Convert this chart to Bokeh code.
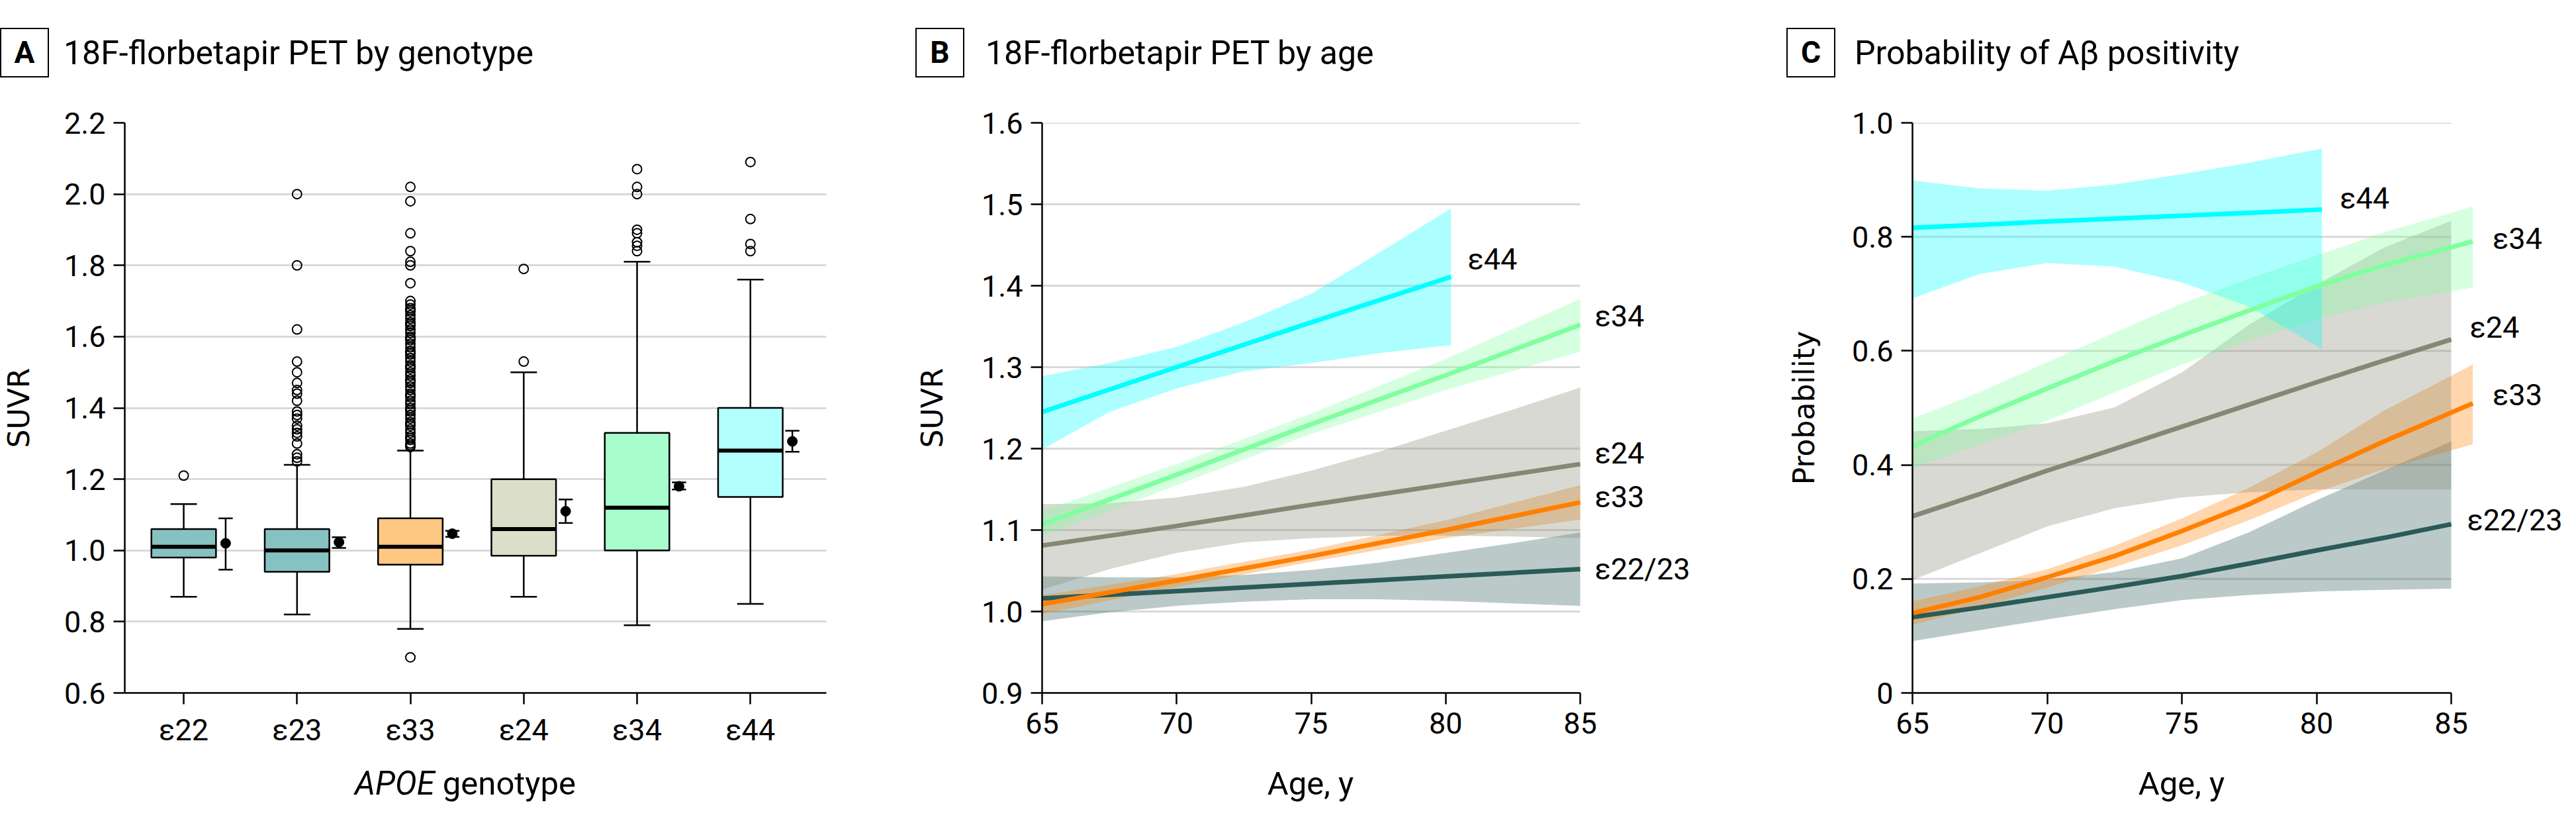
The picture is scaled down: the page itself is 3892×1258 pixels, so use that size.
import math
from bokeh.plotting import figure
from bokeh.layouts import row, column
from bokeh.models import Range1d, FixedTicker, Label, Div
from bokeh.embed import file_html
from bokeh.resources import INLINE

# ---------------- Panel A data ----------------
genotypes = ["ε22", "ε23", "ε33", "ε24", "ε34", "ε44"]
box_colors = ["#86c2c1", "#86c2c1", "#ffc882", "#dbdec8", "#a7fdcb", "#b3feff"]
q1 = [0.98, 0.94, 0.96, 0.985, 1.00, 1.15]
median = [1.01, 1.00, 1.01, 1.06, 1.12, 1.28]
q3 = [1.06, 1.06, 1.09, 1.20, 1.33, 1.40]
whisk_lo = [0.87, 0.82, 0.78, 0.87, 0.79, 0.85]
whisk_hi = [1.13, 1.24, 1.28, 1.50, 1.81, 1.76]
mean_suvr = [1.02, 1.023, 1.047, 1.11, 1.18, 1.306]
ci_lo = [0.946, 1.007, 1.038, 1.077, 1.171, 1.277]
ci_hi = [1.09, 1.037, 1.055, 1.143, 1.191, 1.336]
out_e22 = [1.21]
out_e23 = [2.00, 1.80, 1.62, 1.53, 1.50, 1.47, 1.45, 1.44, 1.42, 1.39, 1.38, 1.37,
           1.35, 1.34, 1.33, 1.32, 1.30, 1.27, 1.26, 1.25]
out_e33 = [2.02, 1.98, 1.89, 1.84, 1.81, 1.80, 1.75, 1.70, 1.69, 1.68, 1.675, 1.67,
           1.66, 1.65, 1.64, 1.635, 1.63, 1.62, 1.61, 1.60, 1.595, 1.59, 1.58, 1.57,
           1.56, 1.555, 1.55, 1.54, 1.53, 1.52, 1.515, 1.51, 1.50, 1.49, 1.48, 1.475,
           1.47, 1.46, 1.45, 1.44, 1.435, 1.43, 1.42, 1.41, 1.40, 1.395, 1.39, 1.38,
           1.37, 1.36, 1.355, 1.35, 1.34, 1.33, 1.32, 1.315, 1.31, 1.30, 1.295, 1.29,
           0.70]
out_e24 = [1.79, 1.53]
out_e34 = [2.07, 2.02, 2.00, 1.90, 1.89, 1.865, 1.855, 1.84]
out_e44 = [2.09, 1.93, 1.86, 1.84]
outliers = [out_e22, out_e23, out_e33, out_e24, out_e34, out_e44]
a_yticks = [0.6, 0.8, 1.0, 1.2, 1.4, 1.6, 1.8, 2.0, 2.2]
a_ylabels = ["0.6", "0.8", "1.0", "1.2", "1.4", "1.6", "1.8", "2.0", "2.2"]

# ---------------- Panel B / C data ----------------
series = ["ε22/23", "ε33", "ε24", "ε34", "ε44"]
series_colors = ["#2b5b57", "#ff8000", "#858874", "#80ff9f", "#00ffff"]
age_ticks = [65, 70, 75, 80, 85]
age_labels = ["65", "70", "75", "80", "85"]

# B: SUVR by age
b_line_x = [[65, 70, 75, 80, 85], [65, 70, 75, 80, 85], [65, 70, 75, 80, 85],
            [65, 70, 75, 80, 85], [65, 70, 75, 80.2]]
b_line_y = [[1.016, 1.025, 1.034, 1.043, 1.052],
            [1.009, 1.038, 1.068, 1.100, 1.134],
            [1.081, 1.105, 1.131, 1.156, 1.181],
            [1.107, 1.168, 1.230, 1.290, 1.352],
            [1.245, 1.300, 1.355, 1.411]]
b_band_x = [[65, 67.5, 70, 72.5, 75, 77.5, 80, 82.5, 85],
            [65, 70, 75, 80, 85],
            [65, 67.5, 70, 72.5, 75, 77.5, 80, 82.5, 85],
            [65, 70, 75, 80, 85],
            [65, 67.5, 70, 72.5, 75, 77.5, 80.2]]
b_band_lo = [[0.988, 0.999, 1.007, 1.012, 1.015, 1.015, 1.013, 1.010, 1.007],
             [0.997, 1.030, 1.061, 1.090, 1.113],
             [1.027, 1.052, 1.072, 1.085, 1.090, 1.093, 1.093, 1.092, 1.090],
             [1.092, 1.155, 1.218, 1.272, 1.319],
             [1.199, 1.245, 1.274, 1.295, 1.305, 1.317, 1.327]]
b_band_hi = [[1.043, 1.042, 1.042, 1.045, 1.051, 1.060, 1.072, 1.084, 1.097],
             [1.020, 1.046, 1.076, 1.112, 1.155],
             [1.132, 1.133, 1.140, 1.153, 1.173, 1.196, 1.222, 1.248, 1.275],
             [1.123, 1.181, 1.243, 1.310, 1.384],
             [1.289, 1.305, 1.325, 1.355, 1.390, 1.440, 1.495]]
b_yticks = [0.9, 1.0, 1.1, 1.2, 1.3, 1.4, 1.5, 1.6]
b_ylabels = ["0.9", "1.0", "1.1", "1.2", "1.3", "1.4", "1.5", "1.6"]

# C: probability of amyloid positivity
c_x_std = [65, 67.5, 70, 72.5, 75, 77.5, 80, 82.5, 85]
c_x_ext = [65, 67.5, 70, 72.5, 75, 77.5, 80, 82.5, 85.8]
c_x_e44 = [65, 67.5, 70, 72.5, 75, 77.5, 80.2]
c_line_x = [c_x_std, c_x_ext, c_x_std, c_x_ext, c_x_e44]
c_line_y = [[0.133, 0.150, 0.168, 0.186, 0.205, 0.227, 0.250, 0.272, 0.296],
            [0.140, 0.168, 0.203, 0.240, 0.284, 0.331, 0.387, 0.441, 0.508],
            [0.310, 0.349, 0.390, 0.428, 0.467, 0.506, 0.545, 0.583, 0.620],
            [0.433, 0.485, 0.534, 0.582, 0.627, 0.671, 0.713, 0.750, 0.792],
            [0.816, 0.821, 0.827, 0.832, 0.837, 0.842, 0.848]]
c_band_lo = [[0.091, 0.110, 0.129, 0.147, 0.163, 0.172, 0.178, 0.181, 0.183],
             [0.119, 0.150, 0.185, 0.221, 0.259, 0.303, 0.352, 0.392, 0.436],
             [0.198, 0.245, 0.292, 0.324, 0.343, 0.352, 0.357, 0.357, 0.357],
             [0.394, 0.436, 0.478, 0.527, 0.576, 0.618, 0.655, 0.685, 0.711],
             [0.692, 0.735, 0.754, 0.748, 0.720, 0.678, 0.603]]
c_band_hi = [[0.192, 0.194, 0.199, 0.212, 0.236, 0.282, 0.338, 0.390, 0.441],
             [0.161, 0.187, 0.217, 0.258, 0.306, 0.360, 0.422, 0.495, 0.576],
             [0.459, 0.463, 0.473, 0.501, 0.562, 0.646, 0.716, 0.781, 0.828],
             [0.481, 0.528, 0.580, 0.632, 0.683, 0.727, 0.767, 0.808, 0.853],
             [0.899, 0.885, 0.881, 0.892, 0.910, 0.930, 0.955]]
c_yticks = [0, 0.2, 0.4, 0.6, 0.8, 1.0]
c_ylabels = ["0", "0.2", "0.4", "0.6", "0.8", "1.0"]

# ---------------- layout constants (pixels) ----------------
FONT = "Roboto"
TITLE_H, FIG_H, XLAB_H = 150, 1000, 92
FRAME_TOP, FRAME_H = 35, 861
GRID = "#d9d9d9"


def title_div(width, box_left, title_left, letter, title):
    html = (
        f'<div style="position:relative;width:{width}px;height:{TITLE_H}px;">'
        f'<div style="position:absolute;left:{box_left}px;top:42px;width:74px;height:75px;'
        f'box-sizing:border-box;border:2.5px solid #000;display:flex;align-items:center;'
        f'justify-content:center;font-family:{FONT};font-weight:bold;font-size:46px;'
        f'color:#000;">{letter}</div>'
        f'<div style="position:absolute;left:{title_left}px;top:50px;height:60px;'
        f'line-height:60px;white-space:nowrap;font-family:{FONT};font-size:50px;'
        f'color:#000;">{title}</div></div>'
    )
    return Div(text=html, width=width, height=TITLE_H, margin=0)


def xlabel_div(width, center, html_text):
    html = (
        f'<div style="position:relative;width:{width}px;height:{XLAB_H}px;">'
        f'<div style="position:absolute;left:{center - 300}px;width:600px;top:4px;'
        f'height:60px;line-height:60px;text-align:center;white-space:nowrap;'
        f'font-family:{FONT};font-size:49px;color:#000;">{html_text}</div></div>'
    )
    return Div(text=html, width=width, height=XLAB_H, margin=0)


def make_fig(width, left, right, xr, yr, yticks, ylabels, xticks, xlabels, ylabel,
             ylabel_standoff, builtin_grid=True):
    p = figure(width=width, height=FIG_H, x_range=Range1d(*xr), y_range=Range1d(*yr),
               output_backend="svg", toolbar_location=None,
               min_border_left=left, min_border_right=right,
               min_border_top=FRAME_TOP, min_border_bottom=FIG_H - FRAME_TOP - FRAME_H,
               margin=0)
    p.outline_line_color = None
    p.background_fill_color = "white"
    p.border_fill_color = "white"
    p.xgrid.visible = False
    if builtin_grid:
        p.ygrid.ticker = FixedTicker(ticks=yticks)
        p.ygrid.grid_line_color = GRID
        p.ygrid.grid_line_width = 3
    else:
        p.ygrid.visible = False
    p.yaxis.ticker = FixedTicker(ticks=yticks)
    p.yaxis.major_label_overrides = {t: l for t, l in zip(yticks, ylabels)}
    p.xaxis.ticker = FixedTicker(ticks=xticks)
    p.xaxis.major_label_overrides = {t: l for t, l in zip(xticks, xlabels)}
    for ax in (p.xaxis, p.yaxis):
        ax.axis_line_width = 2.5
        ax.axis_line_color = "black"
        ax.major_tick_line_width = 2.5
        ax.major_tick_line_color = "black"
        ax.major_tick_out = 17
        ax.major_tick_in = 0
        ax.minor_tick_line_color = None
        ax.major_label_text_font = FONT
        ax.major_label_text_font_size = "45px"
        ax.major_label_text_color = "black"
        ax.major_label_standoff = 12
    p.yaxis.axis_label = ylabel
    p.yaxis.axis_label_text_font = "DejaVu Sans"
    p.yaxis.axis_label_text_font_size = "44px"
    p.yaxis.axis_label_text_font_style = "normal"
    p.yaxis.axis_label_text_color = "black"
    p.yaxis.axis_label_standoff = ylabel_standoff
    return p


def add_label(p, x, y, text, dx=0, dy=0):
    p.add_layout(Label(x=x, y=y, x_offset=dx, y_offset=dy, text=text,
                       text_font=FONT, text_font_size="45px", text_align="left",
                       text_baseline="middle", text_color="black"))


# ---------------- Panel A ----------------
pos = list(range(1, len(genotypes) + 1))
pA = make_fig(1300, 183, 52, (0.48, 6.67), (0.6, 2.2), a_yticks, a_ylabels, pos,
              genotypes, "SUVR", 40)

box_w, cap_w, mean_dx, ecap_w = 0.57, 0.233, 0.37, 0.125
pA.segment(x0=pos, y0=q3, x1=pos, y1=whisk_hi, line_color="black", line_width=2.5)
pA.segment(x0=pos, y0=q1, x1=pos, y1=whisk_lo, line_color="black", line_width=2.5)
pA.segment(x0=[x - cap_w / 2 for x in pos], y0=whisk_hi, x1=[x + cap_w / 2 for x in pos],
           y1=whisk_hi, line_color="black", line_width=2.5)
pA.segment(x0=[x - cap_w / 2 for x in pos], y0=whisk_lo, x1=[x + cap_w / 2 for x in pos],
           y1=whisk_lo, line_color="black", line_width=2.5)
pA.vbar(x=pos, width=box_w, top=q3, bottom=q1, fill_color=box_colors,
        line_color="black", line_width=2.5)
pA.segment(x0=[x - box_w / 2 for x in pos], y0=median, x1=[x + box_w / 2 for x in pos],
           y1=median, line_color="black", line_width=6)
ox, oy = [], []
for x, vals in zip(pos, outliers):
    ox += [x] * len(vals)
    oy += vals
pA.scatter(x=ox, y=oy, marker="circle", size=14, fill_color=None,
           line_color="black", line_width=2)
mx = [x + mean_dx for x in pos]
pA.segment(x0=mx, y0=ci_lo, x1=mx, y1=ci_hi, line_color="black", line_width=2.5)
pA.segment(x0=[x - ecap_w / 2 for x in mx], y0=ci_lo, x1=[x + ecap_w / 2 for x in mx],
           y1=ci_lo, line_color="black", line_width=2.5)
pA.segment(x0=[x - ecap_w / 2 for x in mx], y0=ci_hi, x1=[x + ecap_w / 2 for x in mx],
           y1=ci_hi, line_color="black", line_width=2.5)
pA.scatter(x=mx, y=mean_suvr, marker="circle", size=15, color="black")

colA = column(title_div(1300, 0, 96, "A", "18F-florbetapir PET by genotype"), pA,
              xlabel_div(1300, 703, "<i>APOE</i> genotype"), spacing=0)


# ---------------- Panels B and C ----------------
def curve_panel(width, left, axis_px, yr, yticks, ylabels, line_x, line_y, band_x,
                band_lo, band_hi, ylabel, ylabel_standoff, label_offsets):
    frame_w = width - left
    x_end = age_ticks[0] + (age_ticks[-1] - age_ticks[0]) * frame_w / axis_px
    p = make_fig(width, left, 0, (age_ticks[0], x_end), yr, yticks, ylabels,
                 age_ticks, age_labels, ylabel, ylabel_standoff, builtin_grid=False)
    p.xaxis.bounds = (age_ticks[0], age_ticks[-1])
    p.segment(x0=[age_ticks[0]] * len(yticks), y0=yticks,
              x1=[age_ticks[-1]] * len(yticks), y1=yticks,
              line_color=GRID, line_width=3)
    for bx, lo, hi, col in zip(band_x, band_lo, band_hi, series_colors):
        p.varea(x=bx, y1=lo, y2=hi, fill_color=col, fill_alpha=0.32)
    for lx, ly, col in zip(line_x, line_y, series_colors):
        p.line(x=lx, y=ly, line_color=col, line_width=7)
    for name, lx, ly, (dx, dy) in zip(series, line_x, line_y, label_offsets):
        add_label(p, lx[-1], ly[-1], name, dx=dx, dy=dy)
    return p


b_label_offsets = [(22, 0), (22, 8), (22, 16), (22, 13), (25, 26)]
pB = curve_panel(1300, 274, 813, (0.9, 1.6), b_yticks, b_ylabels, b_line_x, b_line_y,
                 b_band_x, b_band_lo, b_band_hi, "SUVR", 46, b_label_offsets)
colB = column(title_div(1300, 83, 189, "B", "18F-florbetapir PET by age"), pB,
              xlabel_div(1300, 680, "Age, y"), spacing=0)

c_label_offsets = [(24, 6), (30, 13), (28, 18), (30, 4), (27, 17)]
pC = curve_panel(1276, 289, 814, (0, 1.0), c_yticks, c_ylabels, c_line_x, c_line_y,
                 c_line_x, c_band_lo, c_band_hi, "Probability", 44, c_label_offsets)
colC = column(title_div(1276, 99, 202, "C", "Probability of Aβ positivity"), pC,
              xlabel_div(1276, 696, "Age, y"), spacing=0)

layout = row(colA, colB, colC, spacing=0)
open("out.html", "w").write(file_html(layout, INLINE))
